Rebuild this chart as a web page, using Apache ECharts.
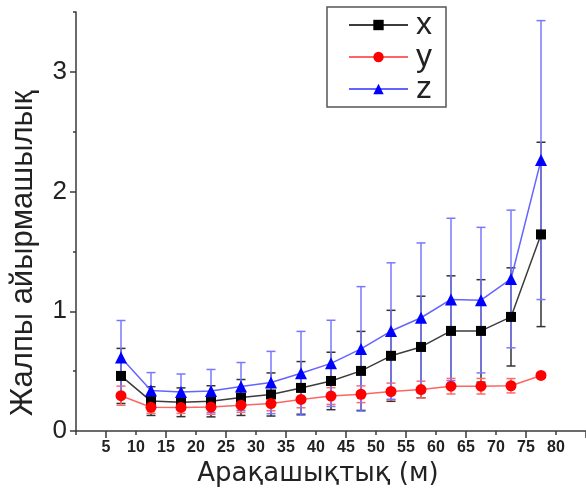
<!DOCTYPE html>
<html>
<head>
<meta charset="utf-8">
<script src="https://cdn.jsdelivr.net/npm/echarts@6/dist/echarts.min.js"></script>
<style>
  html, body { margin: 0; padding: 0; background: #fff; }
  #chart { width: 586px; height: 488px; }
</style>
</head>
<body>
<div id="chart"></div>
<script>
// Distance bins (m)
const distances = [7.5, 12.5, 17.5, 22.5, 27.5, 32.5, 37.5, 42.5, 47.5, 52.5, 57.5, 62.5, 67.5, 72.5, 77.5];

// Mean values and standard deviations per component
const xMean = [0.46, 0.25, 0.24, 0.248, 0.28, 0.305, 0.36, 0.418, 0.502, 0.628, 0.702, 0.836, 0.836, 0.953, 1.642];
const xErr  = [0.23, 0.12, 0.12, 0.13, 0.15, 0.18, 0.22, 0.24, 0.33, 0.38, 0.424, 0.46, 0.428, 0.41, 0.77];
const yMean = [0.295, 0.198, 0.197, 0.2, 0.216, 0.229, 0.264, 0.292, 0.307, 0.33, 0.346, 0.374, 0.374, 0.378, 0.464];
const yErr  = [0.08, 0.05, 0.05, 0.06, 0.06, 0.06, 0.07, 0.07, 0.07, 0.07, 0.07, 0.065, 0.065, 0.06, 0.02];
const zMean = [0.613, 0.338, 0.326, 0.334, 0.372, 0.405, 0.482, 0.565, 0.686, 0.835, 0.946, 1.099, 1.093, 1.27, 2.263];
const zErr  = [0.31, 0.15, 0.15, 0.18, 0.2, 0.26, 0.35, 0.36, 0.52, 0.57, 0.625, 0.678, 0.608, 0.575, 1.165];

// Axis ticks and labels
const xLabelTicks = [5, 10, 15, 20, 25, 30, 35, 40, 45, 50, 55, 60, 65, 70, 75, 80];
const xShortTicks = [0, 10, 20, 30, 40, 50, 60, 70, 80];
const xLongTicks  = [5, 15, 25, 35, 45, 55, 65, 75, 85];
const yMajorTicks = [0, 1, 2, 3];
const yMinorTicks = [0.5, 1.5, 2.5, 3.5];

const xTitle = 'Арақашықтық (м)';
const yTitle = 'Жалпы айырмашылық';

const chart = echarts.init(document.getElementById('chart'), null, { renderer: 'canvas' });

function errorBars(name, means, errs, color) {
  return {
    type: 'custom',
    name: name + '-err',
    silent: true,
    z: 1,
    data: distances.map((d, i) => [d, means[i] - errs[i], means[i] + errs[i]]),
    encode: { x: 0, y: [1, 2] },
    renderItem(params, api) {
      const x = api.value(0);
      const lo = api.coord([x, api.value(1)]);
      const hi = api.coord([x, api.value(2)]);
      const w = 4.5;
      const st = { stroke: color, lineWidth: 1.5 };
      return {
        type: 'group',
        children: [
          { type: 'line', shape: { x1: lo[0], y1: lo[1], x2: hi[0], y2: hi[1] }, style: st },
          { type: 'line', shape: { x1: lo[0] - w, y1: lo[1], x2: lo[0] + w, y2: lo[1] }, style: st },
          { type: 'line', shape: { x1: hi[0] - w, y1: hi[1], x2: hi[0] + w, y2: hi[1] }, style: st }
        ]
      };
    }
  };
}

function lineSeries(name, means, lineColor, markColor, symbol, size) {
  return {
    type: 'line',
    name: name,
    z: 3,
    data: distances.map((d, i) => [d, means[i]]),
    symbol: symbol,
    symbolSize: size,
    showAllSymbol: true,
    lineStyle: { color: lineColor, width: 1.5 },
    itemStyle: { color: markColor, borderWidth: 0 },
    emphasis: { disabled: true }
  };
}

const axisColor = '#3a3a3a';
const font = 'Liberation Sans, Arial, sans-serif';

const option = {
  animation: false,
  backgroundColor: '#fff',
  grid: { left: 76, right: 0, top: 12, bottom: 57, containLabel: false, outerBoundsMode: 'none' },
  legend: {
    data: ['x', 'y', 'z'],
    orient: 'vertical',
    left: 327,
    top: 7,
    padding: [2, 14, 2, 21],
    itemGap: 0,
    itemWidth: 59,
    itemHeight: 13,
    borderColor: '#555',
    borderWidth: 1.5,
    textStyle: { fontFamily: font, fontSize: 32, lineHeight: 32, color: '#222', padding: [0, 0, 0, 3] }
  },
  xAxis: [
    {
      type: 'value', min: 0, max: 85, interval: 5,
      name: xTitle, nameLocation: 'middle', nameGap: 25,
      nameTextStyle: { fontFamily: 'DejaVu Sans, sans-serif', fontSize: 26, color: '#222', padding: [0, 26, 0, 0] },
      axisLine: { show: true, lineStyle: { color: axisColor, width: 1.5 } },
      axisTick: { show: true, customValues: xShortTicks, length: 4, lineStyle: { color: axisColor, width: 1.5 } },
      axisLabel: { customValues: xLabelTicks, margin: 9, fontFamily: font, fontSize: 16, fontWeight: 'bold', color: '#222' },
      splitLine: { show: false }
    },
    {
      type: 'value', min: 0, max: 85, interval: 5, position: 'bottom',
      axisLine: { show: false },
      axisTick: { show: true, customValues: xLongTicks, length: 7, lineStyle: { color: axisColor, width: 1.5 } },
      axisLabel: { show: false },
      splitLine: { show: false }
    }
  ],
  yAxis: [
    {
      type: 'value', min: 0, max: 3.5, interval: 0.5,
      name: yTitle, nameLocation: 'middle', nameGap: 37, nameRotate: 90,
      nameTextStyle: { fontFamily: font, fontSize: 31, color: '#222', padding: [0, 64, 0, 0] },
      axisLine: { show: true, lineStyle: { color: axisColor, width: 1.5 } },
      axisTick: { show: true, customValues: yMajorTicks, length: 6, lineStyle: { color: axisColor, width: 1.5 } },
      axisLabel: { customValues: yMajorTicks, margin: 9, fontFamily: font, fontSize: 26, color: '#222' },
      splitLine: { show: false }
    },
    {
      type: 'value', min: 0, max: 3.5, interval: 0.5, position: 'left',
      axisLine: { show: false },
      axisTick: { show: true, customValues: yMinorTicks, length: 3, lineStyle: { color: axisColor, width: 1.5 } },
      axisLabel: { show: false },
      splitLine: { show: false }
    }
  ],
  series: [
    errorBars('x', xMean, xErr, '#333'),
    errorBars('y', yMean, yErr, '#ff6a6a'),
    errorBars('z', zMean, zErr, '#7878ff'),
    lineSeries('x', xMean, '#3c3c3c', '#000', 'rect', 10),
    lineSeries('y', yMean, '#ff6464', '#ff0000', 'circle', 11),
    lineSeries('z', zMean, '#6464ff', '#0000ff', 'triangle', 12)
  ]
};

chart.setOption(option);
</script>
</body>
</html>
